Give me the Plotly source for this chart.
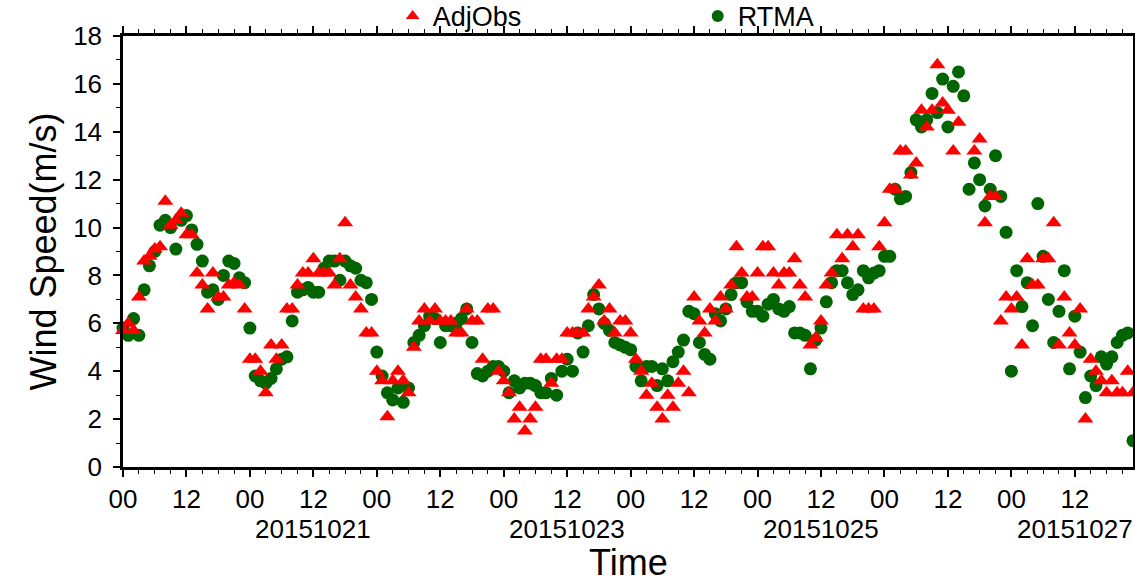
import pandas as pd
import plotly.graph_objects as go

start_time = "2015-10-20 00:00"

adjobs = [
    5.7, 6.0, 5.7, 7.1, 8.6, 8.8, 9.1, 9.2, 11.1, 10.1, 10.3, 10.6,
    9.7, 9.7, 8.1, 7.6, 6.6, 8.1, 7.1, 7.1, 7.6, 7.7, 7.6, 6.6,
    4.5, 4.5, 4.0, 3.1, 5.1, 4.5, 5.1, 6.6, 6.6, 7.6, 8.1, 8.1,
    8.7, 8.1, 8.1, 8.1, 7.6, 8.7, 10.2, 7.6, 7.1, 6.6, 5.6, 5.6,
    4.0, 3.6, 2.1, 3.6, 4.0, 3.6, 3.1, 5.0, 6.1, 6.6, 6.1, 6.6,
    6.1, 6.1, 6.1, 5.6, 5.6, 6.6, 6.1, 6.1, 4.5, 6.6, 6.6, 4.0,
    3.6, 3.1, 2.0, 2.5, 1.5, 2.0, 2.5, 4.5, 4.5, 3.5, 4.5, 4.5,
    5.6, 5.6, 5.6, 5.6, 6.6, 7.1, 7.6, 6.1, 6.6, 5.6, 6.1, 6.1,
    5.6, 4.5, 4.0, 3.0, 3.5, 2.5, 2.0, 3.0, 2.5, 3.5, 4.0, 3.1,
    7.1, 6.1, 5.6, 6.6, 6.1, 7.1, 6.6, 7.6, 9.2, 8.1, 7.1, 7.1,
    8.1, 9.2, 9.2, 8.1, 7.6, 8.1, 8.1, 8.7, 7.6, 7.1, 5.1, 5.4,
    6.1, 7.6, 8.1, 9.7, 8.7, 9.7, 9.2, 9.7, 6.6, 6.6, 6.6, 9.2,
    10.2, 11.6, 11.6, 13.2, 13.2, 12.2, 12.7, 14.9, 14.2, 14.9, 16.8, 15.2,
    14.9, 13.2, 14.4, None, None, 13.2, 13.7, 10.2, 11.3, 11.3, 6.1, 7.1,
    6.6, 7.1, 5.1, 8.7, 7.6, 7.6, 8.7, 8.7, 10.2, 5.1, 7.1, 5.6,
    5.1, 6.6, 2.0, 4.5, 4.0, 3.6, 3.1, 3.6, 3.1, 3.1, 4.0, 3.1,
]

rtma = [
    5.8, 5.5, 6.2, 5.5, 7.4, 8.4, 9.0, 10.1, 10.3, 10.0, 9.1, 10.3,
    10.5, 9.9, 9.3, 8.6, 7.3, 7.4, 7.0, 8.0, 8.6, 8.5, 7.9, 7.7,
    5.8, 3.8, 3.6, 3.5, 3.7, 4.1, 4.5, 4.6, 6.1, 7.3, 7.4, 7.5,
    7.3, 7.3, 8.3, 8.6, 8.6, 7.8, 8.6, 8.4, 8.3, 7.8, 7.7, 7.0,
    4.8, 3.8, 3.1, 2.8, 3.3, 2.7, 3.3, 5.2, 5.5, 5.9, 6.3, 6.2,
    5.2, 5.9, 5.9, 6.0, 6.2, 6.6, 5.2, 3.9, 3.8, 4.0, 4.2, 4.2,
    4.0, 3.1, 3.6, 3.3, 3.5, 3.5, 3.4, 3.1, 3.1, 3.7, 3.0, 4.0,
    4.5, 4.0, 5.6, 4.8, 5.9, 7.2, 6.6, 6.0, 5.7, 5.2, 5.1, 5.0,
    4.9, 4.2, 3.6, 4.2, 4.2, 3.4, 4.1, 3.6, 4.4, 4.8, 5.3, 6.5,
    6.4, 5.2, 4.7, 4.5, 6.4, 6.1, 6.6, 7.2, 7.7, 7.7, 6.9, 6.5,
    6.5, 6.3, 6.8, 7.0, 6.6, 6.5, 6.7, 5.6, 5.6, 5.5, 4.1, 5.3,
    5.8, 6.9, 7.7, 8.2, 8.2, 7.7, 7.2, 7.4, 8.2, 7.9, 8.1, 8.2,
    8.8, 8.8, 11.6, 11.2, 11.3, 12.3, 14.5, 14.2, 14.5, 15.6, 14.8, 16.2,
    14.2, 15.9, 16.5, 15.5, 11.6, 12.7, 12.0, 10.9, 11.6, 13.0, 11.3, 9.8,
    4.0, 8.2, 6.7, 7.7, 5.9, 11.0, 8.8, 7.0, 5.2, 6.5, 8.2, 4.1,
    6.3, 4.8, 2.9, 3.8, 3.4, 4.6, 4.3, 4.6, 5.2, 5.5, 5.6, 1.1,
]

date_label_days = ["2015-10-21", "2015-10-23", "2015-10-25", "2015-10-27"]

times = pd.date_range(start_time, periods=len(adjobs), freq="h")
tick_times = pd.date_range(start_time, times[-1], freq="12h")
tick_text = [t.strftime("%H") for t in tick_times]

font_family = "Liberation Sans, Arial, Helvetica, sans-serif"

fig = go.Figure()
fig.add_trace(go.Scatter(
    x=times, y=rtma, mode="markers", name="RTMA",
    marker=dict(symbol="circle", size=13, color="rgb(0,100,0)", line=dict(width=0)),
    cliponaxis=False,
))
fig.add_trace(go.Scatter(
    x=times, y=adjobs, mode="markers", name="AdjObs",
    marker=dict(symbol="triangle-up", size=14, color="rgb(255,0,0)", line=dict(width=0)),
    cliponaxis=False,
))

# date row under the hour labels, centred on noon of each labelled day
for d in date_label_days:
    day = pd.Timestamp(d)
    fig.add_annotation(
        x=day + pd.Timedelta(hours=12), y=-0.145, xref="x", yref="paper",
        text=day.strftime("%Y%m%d"), showarrow=False,
        xanchor="center", yanchor="middle",
        font=dict(size=26, family=font_family, color="black"),
    )

# x-axis title placed below the date row
fig.add_annotation(
    x=0.5, y=-0.2205, xref="paper", yref="paper",
    text="Time", showarrow=False, xanchor="center", yanchor="middle",
    font=dict(size=36, family=font_family, color="black"),
)

fig.update_layout(
    width=1135, height=584,
    margin=dict(l=123, r=2, t=36, b=117, autoexpand=False),
    paper_bgcolor="white", plot_bgcolor="white",
    font=dict(family=font_family, color="black", size=26),
    showlegend=True,
    legend=dict(
        orientation="h", x=0.267, xanchor="left",
        yref="container", y=0.972, yanchor="middle",
        font=dict(size=27), traceorder="reversed",
        entrywidth=260, entrywidthmode="pixels",
        bgcolor="rgba(0,0,0,0)", itemsizing="constant",
    ),
    xaxis=dict(
        type="date", automargin=False,
        range=[times[0], times[-1]],
        tickmode="array", tickvals=tick_times, ticktext=tick_text,
        ticks="outside", ticklen=7, tickwidth=1.5, tickcolor="black",
        minor=dict(dtick=3 * 3600 * 1000, ticks="outside", ticklen=4, tickcolor="black", tickwidth=1),
        showline=True, linewidth=2.5, linecolor="black", mirror="ticks",
        showgrid=False, zeroline=False,
        tickfont=dict(size=26),
    ),
    yaxis=dict(
        automargin=False,
        range=[0, 18], dtick=2, tick0=0,
        ticks="outside", ticklen=7, tickwidth=1.5, tickcolor="black",
        minor=dict(dtick=1, ticks="outside", ticklen=4, tickcolor="black", tickwidth=1),
        showline=True, linewidth=2.5, linecolor="black", mirror="ticks",
        showgrid=False, zeroline=False,
        tickfont=dict(size=26), ticklabelstandoff=6,
        title=dict(text="Wind Speed(m/s)", font=dict(size=36), standoff=6),
    ),
)

fig.write_html("out.html")
